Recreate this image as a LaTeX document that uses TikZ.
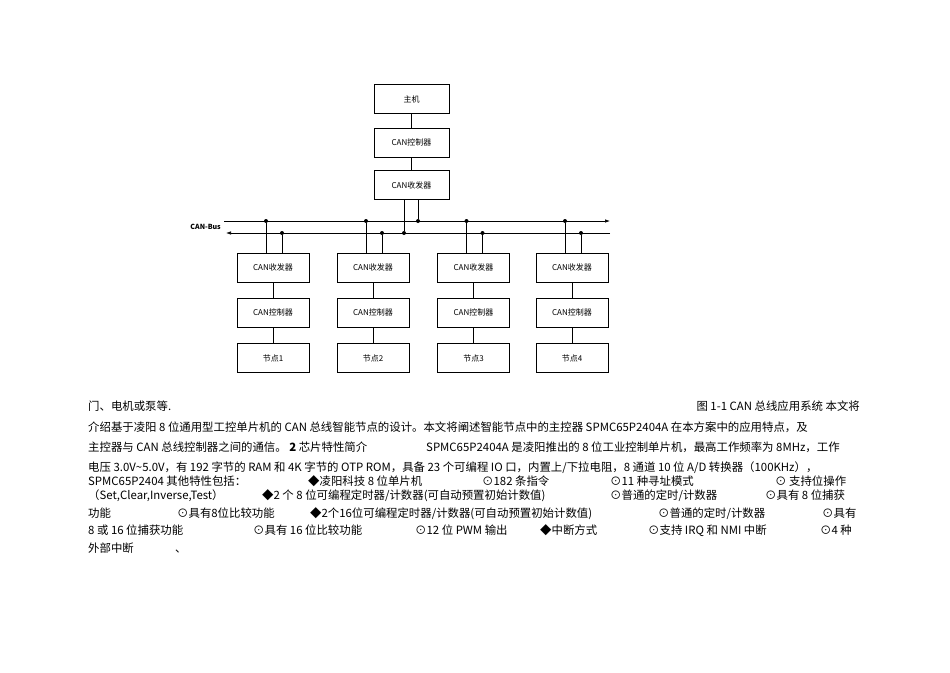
\documentclass[tikz,border=0pt]{standalone}
\usepackage{fontspec}
\setmainfont{Noto Sans CJK SC}
\usetikzlibrary{arrows.meta}
\begin{document}
\begin{tikzpicture}[x=1pt,y=-1pt,
  bx/.style={draw,line width=0.7pt,minimum width=72pt,minimum height=29pt,font=\fontsize{8}{9}\selectfont,inner sep=0},
  ln/.style={line width=0.7pt},
  dt/.style={circle,fill,inner sep=0,minimum size=4pt},
  tx/.style={anchor=base west,inner sep=0,font=\fontsize{11.4}{12}\selectfont}]
\useasboundingbox (0,0) rectangle (950,672);
\node[bx,minimum width=75pt] (host) at (411.5,99) {主机};
\node[bx,minimum width=75pt] (hc) at (411.5,142.5) {CAN控制器};
\node[bx,minimum width=75pt] (ht) at (411.5,185) {CAN收发器};
\draw[ln] (host)--(hc); \draw[ln] (hc)--(ht);
\coordinate (ta) at (224,221); \coordinate (tb) at (610,221);
\coordinate (ba) at (226,233); \coordinate (bb) at (610,233);
\draw[ln,-{Latex[length=5pt,width=3.5pt]}] (ta)--(tb);
\draw[ln,-{Latex[length=5pt,width=3.5pt]}] (bb)--(ba);
\node[anchor=east,font=\bfseries\fontsize{7}{8}\selectfont,inner sep=1pt] (lab) at (222,227) {CAN-Bus};
\node[dt] (d0) at (404,233) {}; \node[dt] (d0b) at (418,221) {};
\draw[ln] (ht.south -| d0) -- (d0); \draw[ln] (ht.south -| d0b) -- (d0b);
\foreach \i/\x in {1/273,2/373,3/473.5,4/572}{
  \node[bx] (t\i) at (\x,267.5) {CAN收发器};
  \node[bx] (c\i) at (\x,312.5) {CAN控制器};
  \node[bx] (n\i) at (\x,358) {节点\i};
  \draw[ln] (t\i)--(c\i); \draw[ln] (c\i)--(n\i);
  \node[dt] (u\i) at (\x-7,221) {}; \node[dt] (v\i) at (\x+9,233) {};
  \draw[ln] (u\i) -- (t\i.north -| u\i); \draw[ln] (v\i) -- (t\i.north -| v\i);
}
\node[tx] (a1) at (88,410) {门、电机或泵等.};
\node[tx,anchor=base east] (a2) at (860,410) {图 1-1 CAN 总线应用系统 本文将};
\node[tx] (b1) at (88,431) {介绍基于凌阳 8 位通用型工控单片机的 CAN 总线智能节点的设计。本文将阐述智能节点中的主控器 SPMC65P2404A 在本方案中的应用特点，及};
\node[tx] (c1) at (88,451) {主控器与 CAN 总线控制器之间的通信。 \textbf{2} 芯片特性简介};
\node[tx] (c2) at (426,451) {SPMC65P2404A 是凌阳推出的 8 位工业控制单片机，最高工作频率为 8MHz，工作};
\node[tx] (d1) at (88,471) {电压 3.0V\~{}5.0V，有 192 字节的 RAM 和 4K 字节的 OTP ROM，具备 23 个可编程 IO 口，内置上/下拉电阻，8 通道 10 位 A/D 转换器（100KHz），};
\node[tx] (e1) at (88,485) {SPMC65P2404  其他特性包括：};
\node[tx] (e2) at (308,485) {◆凌阳科技 8 位单片机};
\node[tx] (e3) at (482,485) {⊙182 条指令};
\node[tx] (e4) at (610,485) {⊙11 种寻址模式};
\node[tx] (e5) at (775,485) {⊙ 支持位操作};
\node[tx] (f1) at (88,499) {（Set,Clear,Inverse,Test）};
\node[tx] (f2) at (262,499) {◆2 个 8 位可编程定时器/计数器(可自动预置初始计数值)};
\node[tx] (f3) at (610,499) {⊙普通的定时/计数器};
\node[tx] (f4) at (765,499) {⊙具有 8 位捕获};
\node[tx] (g1) at (88,517) {功能};
\node[tx] (g2) at (177,517) {⊙具有8位比较功能};
\node[tx] (g3) at (310,517) {◆2个16位可编程定时器/计数器(可自动预置初始计数值)};
\node[tx] (g4) at (658,517) {⊙普通的定时/计数器};
\node[tx] (g5) at (822,517) {⊙具有};
\node[tx] (h1) at (88,534) {8 或 16 位捕获功能};
\node[tx] (h2) at (253,534) {⊙具有 16 位比较功能};
\node[tx] (h3) at (415,534) {⊙12 位 PWM 输出};
\node[tx] (h4) at (540,534) {◆中断方式};
\node[tx] (h5) at (648,534) {⊙支持 IRQ 和 NMI 中断};
\node[tx] (h6) at (820,534) {⊙4 种};
\node[tx] (i1) at (88,552) {外部中断};
\node[tx] (i2) at (175,552) {、};
\end{tikzpicture}
\end{document}
